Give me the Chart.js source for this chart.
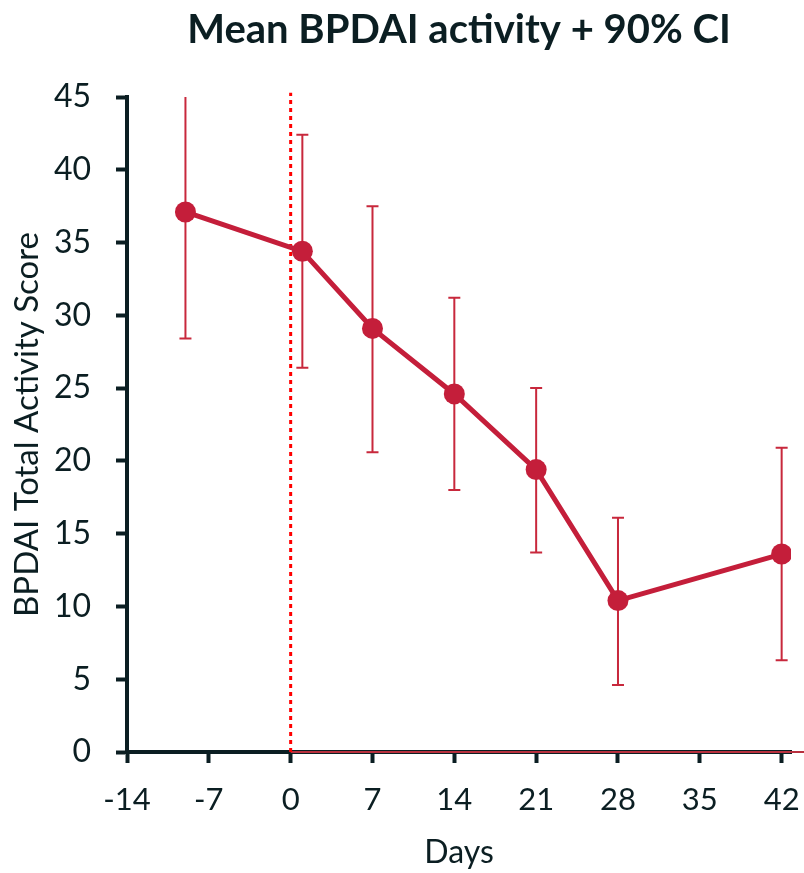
<!DOCTYPE html>
<html>
<head>
<meta charset="utf-8">
<script src="https://cdn.jsdelivr.net/npm/chart.js@4.4.1/dist/chart.umd.min.js"></script>
<style>
    html, body { margin: 0; padding: 0; background: #fff; overflow: hidden; }
    #wrap { width: 804px; height: 873px; }
</style>
</head>
<body>
<div id="wrap"><canvas id="bpdaiChart"></canvas></div>
<script>
// values
const days = [-9, 1, 7, 14, 21, 28, 42]
const meanScore = [37.1, 34.4, 29.1, 24.6, 19.4, 10.4, 13.6]
const ciLower = [28.4, 26.4, 20.6, 18.0, 13.7, 4.6, 6.3]
const ciUpper = [46.5, 42.4, 37.5, 31.2, 25.0, 16.1, 20.9]
const xTicks = [-14, -7, 0, 7, 14, 21, 28, 35, 42]
const yTicks = [0, 5, 10, 15, 20, 25, 30, 35, 40, 45]
const treatmentStartDay = 0

const red = '#C41E3A'
const dark = '#0B1E22'
const font = 'Lato, "Open Sans", sans-serif'

const errorBars = {
    id: 'errorBars',
    beforeDatasetsDraw(chart) {
        const { ctx, chartArea, scales: { x, y } } = chart
        ctx.save()
        ctx.beginPath()
        ctx.rect(chartArea.left, chartArea.top, chartArea.right - chartArea.left, chartArea.bottom - chartArea.top)
        ctx.clip()
        ctx.strokeStyle = '#C8283C'
        ctx.lineWidth = 2
        days.forEach((d, i) => {
            const px = x.getPixelForValue(d)
            const top = y.getPixelForValue(ciUpper[i])
            const bottom = y.getPixelForValue(ciLower[i])
            ctx.beginPath()
            ctx.moveTo(px, top)
            ctx.lineTo(px, bottom)
            ctx.moveTo(px - 6, top)
            ctx.lineTo(px + 6, top)
            ctx.moveTo(px - 6, bottom)
            ctx.lineTo(px + 6, bottom)
            ctx.stroke()
        })
        ctx.restore()
    }
}

new Chart(document.getElementById('bpdaiChart'), {
    type: 'line',
    data: {
        datasets: [
            {
                label: 'Mean BPDAI',
                data: days.map((d, i) => ({ x: d, y: meanScore[i] })),
                borderColor: red,
                backgroundColor: red,
                borderWidth: 5,
                pointRadius: 10.5,
                pointBorderWidth: 0,
                pointBackgroundColor: red,
                order: 1
            },
            {
                label: 'start',
                data: [{ x: treatmentStartDay, y: 0 }, { x: treatmentStartDay, y: 45.3 }],
                borderColor: '#FF0000',
                borderWidth: 3,
                borderDash: [4, 4],
                pointRadius: 0,
                clip: false,
                order: 2
            },
            {
                label: 'baseline',
                data: [{ x: treatmentStartDay, y: 0 }, { x: 46, y: 0 }],
                borderColor: '#B8303E',
                borderWidth: 2,
                pointRadius: 0,
                clip: false,
                order: 3
            }
        ]
    },
    options: {
        responsive: true,
        maintainAspectRatio: false,
        animation: false,
        layout: { padding: { top: 0, left: 0, right: 13, bottom: 0 } },
        plugins: {
            legend: { display: false },
            tooltip: { enabled: false },
            title: {
                display: true,
                fullSize: false,
                text: 'Mean BPDAI activity + 90% CI',
                color: dark,
                font: { family: font, size: 40, weight: 'bold' },
                padding: { top: 6, bottom: 43 }
            }
        },
        scales: {
            x: {
                type: 'linear',
                min: -14,
                max: 42.8,
                afterFit: (scale) => {
                    scale.height = 121
                    scale.paddingLeft = 0
                    scale.paddingRight = 0
                },
                afterBuildTicks: (scale) => { scale.ticks = xTicks.map((v) => ({ value: v })) },
                ticks: { color: dark, font: { family: font, size: 31 }, padding: 18 },
                grid: { drawOnChartArea: false, drawTicks: true, tickLength: 11, tickWidth: 4, tickColor: dark },
                border: { display: true, color: dark, width: 4 },
                title: { display: true, text: 'Days', color: dark, font: { family: font, size: 32 }, padding: { top: 4, bottom: 1 } }
            },
            y: {
                min: 0,
                max: 45,
                afterFit: (scale) => { scale.width = 127 },
                afterBuildTicks: (scale) => { scale.ticks = yTicks.map((v) => ({ value: v })) },
                ticks: { color: dark, font: { family: font, size: 32 }, padding: 25 },
                grid: { drawOnChartArea: false, drawTicks: true, tickLength: 11, tickWidth: 4, tickColor: dark },
                border: { display: true, color: dark, width: 4 },
                title: { display: true, text: 'BPDAI Total Activity Score', color: dark, font: { family: font, size: 33 }, padding: { top: 8, bottom: 0 } }
            }
        }
    },
    plugins: [errorBars]
})
</script>
</body>
</html>
